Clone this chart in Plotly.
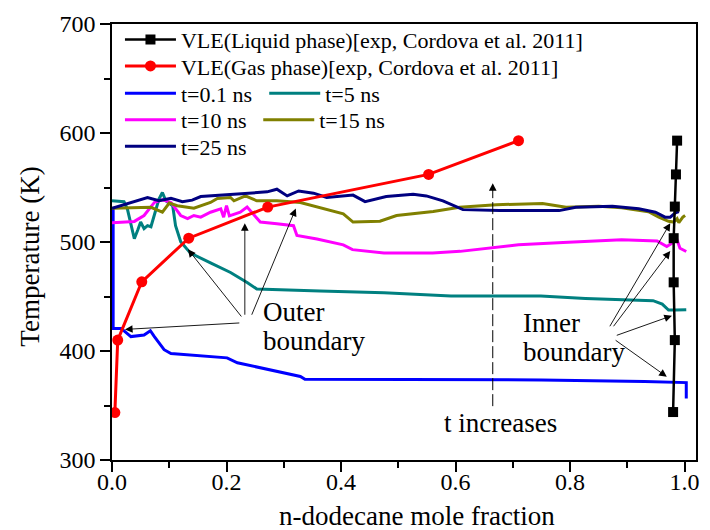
import plotly.graph_objects as go

# ---- VLE experimental data (Cordova et al. 2011) ----
liq_x = [0.980, 0.983, 0.981, 0.981, 0.983, 0.985, 0.987]
liq_T = [344.0, 410.0, 463.0, 503.5, 532.5, 562.0, 593.0]

gas_x = [0.005, 0.010, 0.052, 0.134, 0.272, 0.553, 0.710]
gas_T = [343.5, 410.0, 463.5, 503.5, 532.0, 562.0, 593.0]

# ---- simulated interface temperature profiles ----
t01_x = [0.002, 0.002, 0.016, 0.033, 0.056, 0.067, 0.074, 0.082, 0.091, 0.103,
         0.155, 0.201, 0.219, 0.271, 0.329, 0.337, 0.45, 0.60, 0.75, 0.93,
         0.98, 1.003, 1.003]
t01_T = [532.0, 420.7, 420.7, 413.2, 414.7, 418.6, 413.2, 407.2, 401.2, 397.6,
         395.2, 393.7, 389.2, 383.2, 376.6, 374.0, 374.0, 374.0, 373.5, 372.0,
         371.0, 371.0, 356.5]

t5_x = [0.0, 0.021, 0.027, 0.033, 0.039, 0.045, 0.050, 0.056, 0.062, 0.068,
        0.074, 0.082, 0.088, 0.094, 0.106, 0.111, 0.120, 0.137, 0.172, 0.207,
        0.236, 0.253, 0.363, 0.475, 0.592, 0.749, 0.827, 0.945, 0.961, 0.972,
        0.984, 1.003]
t5_T = [537.8, 537.0, 530.0, 515.0, 503.0, 511.0, 518.3, 512.3, 515.0, 514.0,
        524.3, 539.4, 545.4, 537.8, 533.3, 515.0, 500.3, 489.8, 480.8, 472.0,
        462.8, 456.8, 455.0, 453.4, 450.4, 450.4, 448.2, 446.2, 443.0, 437.5,
        437.5, 437.8]

t10_x = [0.0, 0.039, 0.056, 0.074, 0.088, 0.103, 0.120, 0.132, 0.143, 0.155,
         0.172, 0.190, 0.195, 0.200, 0.205, 0.224, 0.236, 0.248, 0.259, 0.288,
         0.317, 0.323, 0.358, 0.404, 0.420, 0.475, 0.560, 0.608, 0.663, 0.710,
         0.788, 0.890, 0.952, 0.969, 0.978, 0.987, 0.992, 1.003]
t10_T = [517.7, 518.9, 524.3, 536.3, 538.7, 536.3, 524.3, 521.4, 524.3, 522.8,
         527.3, 530.4, 522.8, 533.3, 524.0, 527.3, 532.0, 524.3, 518.3, 516.8,
         515.0, 506.0, 502.7, 497.4, 493.0, 490.0, 490.0, 491.4, 494.4, 497.4,
         499.5, 502.0, 501.0, 495.8, 498.8, 501.8, 494.3, 491.3]

t15_x = [0.0, 0.039, 0.068, 0.088, 0.100, 0.114, 0.143, 0.172, 0.184, 0.207,
         0.213, 0.233, 0.253, 0.288, 0.329, 0.404, 0.421, 0.468, 0.497, 0.561,
         0.607, 0.671, 0.752, 0.793, 0.850, 0.890, 0.937, 0.955, 0.972, 0.981,
         0.987, 0.990, 0.997, 1.001]
t15_T = [530.9, 531.8, 531.8, 527.3, 535.7, 533.3, 531.0, 536.3, 540.0, 540.8,
         537.8, 542.3, 537.8, 537.8, 536.3, 525.9, 518.3, 519.0, 524.3, 527.9,
         531.8, 534.2, 535.4, 531.8, 532.7, 531.4, 527.8, 522.8, 519.0, 518.3,
         521.4, 517.7, 522.8, 524.3]

t25_x = [0.0, 0.027, 0.062, 0.082, 0.103, 0.123, 0.140, 0.155, 0.195, 0.236,
         0.271, 0.288, 0.306, 0.326, 0.352, 0.375, 0.421, 0.442, 0.479, 0.526,
         0.549, 0.578, 0.613, 0.677, 0.781, 0.810, 0.874, 0.920, 0.949, 0.966,
         0.975, 0.984, 0.990]
t25_T = [530.9, 534.9, 540.8, 537.8, 540.0, 536.9, 538.4, 541.7, 543.0, 544.8,
         546.0, 548.4, 542.3, 546.8, 544.8, 540.8, 543.0, 537.0, 541.7, 543.8,
         542.3, 537.8, 529.7, 528.8, 528.8, 531.8, 532.7, 530.4, 527.3, 522.8,
         522.8, 526.8, 528.0]

x_ticks = [0.0, 0.2, 0.4, 0.6, 0.8, 1.0]
y_ticks = [300, 400, 500, 600, 700]

FONT = "'Liberation Serif', 'Times New Roman', 'DejaVu Serif', serif"

fig = go.Figure()

profiles = [
    ("t=0.1 ns", t01_x, t01_T, "#0000FF", "legend3"),
    ("t=5 ns", t5_x, t5_T, "#008080", "legend4"),
    ("t=10 ns", t10_x, t10_T, "#FF00FF", "legend5"),
    ("t=15 ns", t15_x, t15_T, "#808000", "legend6"),
    ("t=25 ns", t25_x, t25_T, "#000080", "legend7"),
]
for name, xs, ys, color, lg in profiles:
    fig.add_trace(go.Scatter(x=xs, y=ys, name=name, mode="lines",
                             line=dict(color=color, width=3), legend=lg))

fig.add_trace(go.Scatter(
    x=gas_x, y=gas_T, name="VLE(Gas phase)[exp, Cordova et al. 2011]",
    mode="lines+markers", line=dict(color="#FF0000", width=3),
    marker=dict(symbol="circle", size=11, color="#FF0000"), legend="legend2"))

fig.add_trace(go.Scatter(
    x=liq_x, y=liq_T, name="VLE(Liquid phase)[exp, Cordova et al. 2011]",
    mode="lines+markers", line=dict(color="#000000", width=2.5),
    marker=dict(symbol="square", size=10, color="#000000"), legend="legend"))

# plot area in pixels: x 112..699, y 15..460
PL, PR, PT, PB = 112, 699, 15, 460


def px2paper(px, py):
    return (px - PL) / (PR - PL), (PB - py) / (PB - PT)


# (sample-line start, row anchor) of each legend entry, in pixels
legend_pos = {
    "legend": (125, 31),
    "legend2": (125, 58),
    "legend3": (125, 86),
    "legend4": (270, 86),
    "legend5": (125, 113),
    "legend6": (264, 113),
    "legend7": (125, 140),
}
legend_layout = {}
for key, (px, py) in legend_pos.items():
    lx, ly = px2paper(px - 5, py)
    legend_layout[key] = dict(
        x=lx, y=ly, xanchor="left", yanchor="middle",
        bgcolor="rgba(0,0,0,0)", borderwidth=0, itemwidth=51,
        font=dict(family=FONT, size=22, color="black"),
    )

annotations = []

# text labels
for txt, x, y in [("Outer", 0.261, 435.5), ("boundary", 0.261, 409.5),
                  ("Inner", 0.714, 425.5), ("boundary", 0.714, 399.0),
                  ("t increases", 0.577, 334.0)]:
    annotations.append(dict(x=x, y=y, xref="x", yref="y", text=txt,
                            showarrow=False, xanchor="left", yanchor="middle",
                            font=dict(family=FONT, size=27, color="black")))

# pointer arrows: (tail_x, tail_y, head_x, head_y)
pointers = [
    (0.228, 430.3, 0.1326, 493.3),
    (0.232, 431.9, 0.232, 517.3),
    (0.243, 431.9, 0.321, 530.7),
    (0.225, 425.8, 0.0226, 419.8),
    (0.868, 421.3, 0.975, 517.3),
    (0.874, 421.3, 0.975, 491.7),
    (0.879, 413.9, 0.978, 432.4),
    (0.877, 410.8, 0.969, 376.4),
    (0.665, 546.0, 0.665, 554.0),
]
for tx, ty, hx, hy in pointers:
    annotations.append(dict(x=hx, y=hy, ax=tx, ay=ty, xref="x", yref="y",
                            axref="x", ayref="y", text="", showarrow=True,
                            arrowhead=2, arrowsize=1.7, arrowwidth=0.9,
                            arrowcolor="black", standoff=0))

# axis titles
tx, ty = px2paper(419, 517)
annotations.append(dict(x=tx, y=ty, xref="paper", yref="paper",
                        text="n-dodecane mole fraction", showarrow=False,
                        xanchor="center", yanchor="middle",
                        font=dict(family=FONT, size=27, color="black")))
tx, ty = px2paper(30, 252)
annotations.append(dict(x=tx, y=ty, xref="paper", yref="paper",
                        text="Temperature (K)", showarrow=False, textangle=-90,
                        xanchor="center", yanchor="middle",
                        font=dict(family=FONT, size=27, color="black")))

shapes = [dict(type="line", xref="x", yref="y", x0=0.665, x1=0.665,
               y0=349.4, y1=548.0,
               line=dict(color="black", width=1, dash="12px,4px"))]

axis_common = dict(
    showline=True, linecolor="black", linewidth=1.5, mirror=True,
    ticks="outside", ticklen=10, tickwidth=1.5, tickcolor="black",
    showgrid=False, zeroline=False,
    tickfont=dict(family=FONT, size=24, color="black"),
)

fig.update_layout(
    width=710, height=530,
    margin=dict(l=PL, r=710 - PR, t=PT, b=530 - PB),
    plot_bgcolor="white", paper_bgcolor="white",
    font=dict(family=FONT),
    xaxis=dict(range=[0, 1.02], tickvals=x_ticks, tickformat=".1f",
               ticklabelstandoff=-11,
               minor=dict(dtick=0.1, tick0=0, ticks="outside", ticklen=6,
                          tickwidth=1.5, tickcolor="black"),
               **axis_common),
    yaxis=dict(range=[300, 700], tickvals=y_ticks,
               minor=dict(dtick=50, tick0=300, ticks="outside", ticklen=6,
                          tickwidth=1.5, tickcolor="black"),
               **axis_common),
    annotations=annotations,
    shapes=shapes,
    showlegend=True,
    **legend_layout,
)

fig.write_html("out.html")
